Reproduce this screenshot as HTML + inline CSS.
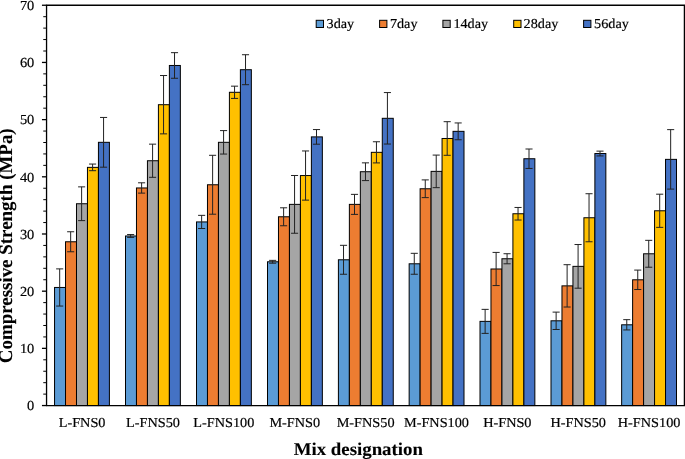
<!DOCTYPE html>
<html><head><meta charset="utf-8"><title>Compressive Strength chart</title>
<style>
html,body{margin:0;padding:0;background:#fff;}
body{width:685px;height:459px;overflow:hidden;}
svg{display:block;}
text{text-rendering:geometricPrecision;stroke:#000;stroke-width:0.18px;font-family:"Liberation Serif","Times New Roman",serif;fill:#000;}
.tk{font-size:13.8px;}
.ct{font-size:13.65px;}
.lg{font-size:13.6px;}
.yt{font-size:18.95px !important;}
.ti{font-size:18.05px;font-weight:bold;stroke-width:0.1px;}
</style></head><body>
<svg width="685" height="459" viewBox="0 0 685 459">
<rect x="0" y="0" width="685" height="459" fill="#fff"/>
<g stroke="#000" stroke-width="1">
<rect x="54.55" y="287.46" width="10.97" height="118.09" fill="#5B9BD5"/>
<rect x="65.52" y="241.77" width="10.97" height="163.78" fill="#ED7D31"/>
<rect x="76.49" y="203.74" width="10.97" height="201.81" fill="#A5A5A5"/>
<rect x="87.46" y="167.37" width="10.97" height="238.18" fill="#FFC000"/>
<rect x="98.43" y="142.32" width="10.97" height="263.23" fill="#4472C4"/>
<rect x="125.50" y="235.99" width="10.97" height="169.56" fill="#5B9BD5"/>
<rect x="136.47" y="187.96" width="10.97" height="217.59" fill="#ED7D31"/>
<rect x="147.44" y="160.74" width="10.97" height="244.81" fill="#A5A5A5"/>
<rect x="158.41" y="104.70" width="10.97" height="300.85" fill="#FFC000"/>
<rect x="169.38" y="65.47" width="10.97" height="340.08" fill="#4472C4"/>
<rect x="196.50" y="221.93" width="10.97" height="183.62" fill="#5B9BD5"/>
<rect x="207.47" y="184.76" width="10.97" height="220.79" fill="#ED7D31"/>
<rect x="218.44" y="142.32" width="10.97" height="263.23" fill="#A5A5A5"/>
<rect x="229.41" y="92.29" width="10.97" height="313.26" fill="#FFC000"/>
<rect x="240.38" y="69.70" width="10.97" height="335.85" fill="#4472C4"/>
<rect x="267.50" y="261.79" width="10.97" height="143.76" fill="#5B9BD5"/>
<rect x="278.47" y="216.78" width="10.97" height="188.77" fill="#ED7D31"/>
<rect x="289.44" y="204.37" width="10.97" height="201.18" fill="#A5A5A5"/>
<rect x="300.41" y="175.55" width="10.97" height="230.00" fill="#FFC000"/>
<rect x="311.38" y="136.89" width="10.97" height="268.66" fill="#4472C4"/>
<rect x="338.40" y="259.78" width="10.97" height="145.77" fill="#5B9BD5"/>
<rect x="349.37" y="204.37" width="10.97" height="201.18" fill="#ED7D31"/>
<rect x="360.34" y="171.72" width="10.97" height="233.83" fill="#A5A5A5"/>
<rect x="371.31" y="152.33" width="10.97" height="253.22" fill="#FFC000"/>
<rect x="382.28" y="118.31" width="10.97" height="287.24" fill="#4472C4"/>
<rect x="409.15" y="263.79" width="10.97" height="141.76" fill="#5B9BD5"/>
<rect x="420.12" y="188.76" width="10.97" height="216.79" fill="#ED7D31"/>
<rect x="431.09" y="171.37" width="10.97" height="234.18" fill="#A5A5A5"/>
<rect x="442.06" y="138.49" width="10.97" height="267.06" fill="#FFC000"/>
<rect x="453.03" y="131.34" width="10.97" height="274.21" fill="#4472C4"/>
<rect x="480.00" y="321.37" width="10.97" height="84.18" fill="#5B9BD5"/>
<rect x="490.97" y="268.99" width="10.97" height="136.56" fill="#ED7D31"/>
<rect x="501.94" y="258.75" width="10.97" height="146.80" fill="#A5A5A5"/>
<rect x="512.91" y="213.75" width="10.97" height="191.80" fill="#FFC000"/>
<rect x="523.88" y="158.74" width="10.97" height="246.81" fill="#4472C4"/>
<rect x="551.00" y="320.80" width="10.97" height="84.75" fill="#5B9BD5"/>
<rect x="561.97" y="285.86" width="10.97" height="119.69" fill="#ED7D31"/>
<rect x="572.94" y="266.36" width="10.97" height="139.19" fill="#A5A5A5"/>
<rect x="583.91" y="217.75" width="10.97" height="187.80" fill="#FFC000"/>
<rect x="594.88" y="153.53" width="10.97" height="252.02" fill="#4472C4"/>
<rect x="621.65" y="324.80" width="10.97" height="80.75" fill="#5B9BD5"/>
<rect x="632.62" y="279.80" width="10.97" height="125.75" fill="#ED7D31"/>
<rect x="643.59" y="253.78" width="10.97" height="151.77" fill="#A5A5A5"/>
<rect x="654.56" y="210.78" width="10.97" height="194.77" fill="#FFC000"/>
<rect x="665.53" y="159.37" width="10.97" height="246.18" fill="#4472C4"/>
</g>
<g stroke="#222" stroke-width="1" fill="none">
<path d="M59.68 268.88V306.05M56.13 268.88H63.23M56.13 306.05H63.23"/>
<path d="M70.66 231.76V251.78M67.11 231.76H74.20M67.11 251.78H74.20"/>
<path d="M81.62 186.87V220.61M78.08 186.87H85.17M78.08 220.61H85.17"/>
<path d="M92.60 164.05V170.69M89.05 164.05H96.15M89.05 170.69H96.15"/>
<path d="M103.57 117.45V167.20M100.02 117.45H107.12M100.02 167.20H107.12"/>
<path d="M130.64 234.56V237.42M127.09 234.56H134.19M127.09 237.42H134.19"/>
<path d="M141.61 182.81V193.11M138.06 182.81H145.16M138.06 193.11H145.16"/>
<path d="M152.58 144.15V177.32M149.03 144.15H156.13M149.03 177.32H156.13"/>
<path d="M163.55 75.53V133.86M160.00 75.53H167.10M160.00 133.86H167.10"/>
<path d="M174.52 52.66V78.28M170.97 52.66H178.07M170.97 78.28H178.07"/>
<path d="M201.64 215.35V228.50M198.09 215.35H205.19M198.09 228.50H205.19"/>
<path d="M212.61 155.31V214.21M209.06 155.31H216.16M209.06 214.21H216.16"/>
<path d="M223.58 130.60V154.05M220.03 130.60H227.13M220.03 154.05H227.13"/>
<path d="M234.55 86.17V98.41M231.00 86.17H238.10M231.00 98.41H238.10"/>
<path d="M245.52 54.72V84.68M241.97 54.72H249.07M241.97 84.68H249.07"/>
<path d="M272.63 260.36V263.21M269.08 260.36H276.19M269.08 263.21H276.19"/>
<path d="M283.61 207.80V225.76M280.06 207.80H287.16M280.06 225.76H287.16"/>
<path d="M294.57 175.49V233.25M291.02 175.49H298.12M291.02 233.25H298.12"/>
<path d="M305.55 150.96V200.14M302.00 150.96H309.10M302.00 200.14H309.10"/>
<path d="M316.51 129.57V144.21M312.96 129.57H320.06M312.96 144.21H320.06"/>
<path d="M343.53 245.32V274.25M339.98 245.32H347.08M339.98 274.25H347.08"/>
<path d="M354.50 194.36V214.38M350.95 194.36H358.06M350.95 214.38H358.06"/>
<path d="M365.47 162.85V180.58M361.92 162.85H369.02M361.92 180.58H369.02"/>
<path d="M376.44 141.75V162.91M372.89 141.75H380.00M372.89 162.91H380.00"/>
<path d="M387.41 92.57V144.04M383.86 92.57H390.96M383.86 144.04H390.96"/>
<path d="M414.28 253.32V274.25M410.73 253.32H417.83M410.73 274.25H417.83"/>
<path d="M425.25 179.90V197.62M421.70 179.90H428.81M421.70 197.62H428.81"/>
<path d="M436.22 155.08V187.67M432.67 155.08H439.77M432.67 187.67H439.77"/>
<path d="M447.19 121.68V155.31M443.64 121.68H450.75M443.64 155.31H450.75"/>
<path d="M458.16 122.94V139.75M454.61 122.94H461.71M454.61 139.75H461.71"/>
<path d="M485.13 309.36V333.38M481.58 309.36H488.69M481.58 333.38H488.69"/>
<path d="M496.11 252.41V285.57M492.56 252.41H499.66M492.56 285.57H499.66"/>
<path d="M507.07 253.72V263.79M503.52 253.72H510.62M503.52 263.79H510.62"/>
<path d="M518.04 207.46V220.04M514.50 207.46H521.59M514.50 220.04H521.59"/>
<path d="M529.01 149.01V168.46M525.47 149.01H532.56M525.47 168.46H532.56"/>
<path d="M556.13 312.11V329.49M552.59 312.11H559.68M552.59 329.49H559.68"/>
<path d="M567.11 264.70V307.02M563.56 264.70H570.65M563.56 307.02H570.65"/>
<path d="M578.08 244.52V288.20M574.53 244.52H581.62M574.53 288.20H581.62"/>
<path d="M589.04 193.73V241.77M585.50 193.73H592.59M585.50 241.77H592.59"/>
<path d="M600.01 151.13V155.93M596.47 151.13H603.56M596.47 155.93H603.56"/>
<path d="M626.78 319.66V329.95M623.24 319.66H630.33M623.24 329.95H630.33"/>
<path d="M637.75 270.08V289.52M634.21 270.08H641.30M634.21 289.52H641.30"/>
<path d="M648.73 240.34V267.22M645.18 240.34H652.27M645.18 267.22H652.27"/>
<path d="M659.69 194.19V227.36M656.14 194.19H663.24M656.14 227.36H663.24"/>
<path d="M670.66 129.63V189.10M667.12 129.63H674.21M667.12 189.10H674.21"/>
</g>
<g stroke="#000" stroke-width="1.3" fill="none">
<path d="M46.55 5.25H684.4V405.55H46.55Z"/>
<path d="M41.95 405.55H46.55"/>
<path d="M43.25 394.11H46.55" stroke-width="1"/>
<path d="M43.25 382.68H46.55" stroke-width="1"/>
<path d="M43.25 371.24H46.55" stroke-width="1"/>
<path d="M43.25 359.80H46.55" stroke-width="1"/>
<path d="M41.95 348.36H46.55"/>
<path d="M43.25 336.93H46.55" stroke-width="1"/>
<path d="M43.25 325.49H46.55" stroke-width="1"/>
<path d="M43.25 314.05H46.55" stroke-width="1"/>
<path d="M43.25 302.62H46.55" stroke-width="1"/>
<path d="M41.95 291.18H46.55"/>
<path d="M43.25 279.74H46.55" stroke-width="1"/>
<path d="M43.25 268.30H46.55" stroke-width="1"/>
<path d="M43.25 256.87H46.55" stroke-width="1"/>
<path d="M43.25 245.43H46.55" stroke-width="1"/>
<path d="M41.95 233.99H46.55"/>
<path d="M43.25 222.56H46.55" stroke-width="1"/>
<path d="M43.25 211.12H46.55" stroke-width="1"/>
<path d="M43.25 199.68H46.55" stroke-width="1"/>
<path d="M43.25 188.24H46.55" stroke-width="1"/>
<path d="M41.95 176.81H46.55"/>
<path d="M43.25 165.37H46.55" stroke-width="1"/>
<path d="M43.25 153.93H46.55" stroke-width="1"/>
<path d="M43.25 142.50H46.55" stroke-width="1"/>
<path d="M43.25 131.06H46.55" stroke-width="1"/>
<path d="M41.95 119.62H46.55"/>
<path d="M43.25 108.18H46.55" stroke-width="1"/>
<path d="M43.25 96.75H46.55" stroke-width="1"/>
<path d="M43.25 85.31H46.55" stroke-width="1"/>
<path d="M43.25 73.87H46.55" stroke-width="1"/>
<path d="M41.95 62.44H46.55"/>
<path d="M43.25 51.00H46.55" stroke-width="1"/>
<path d="M43.25 39.56H46.55" stroke-width="1"/>
<path d="M43.25 28.12H46.55" stroke-width="1"/>
<path d="M43.25 16.69H46.55" stroke-width="1"/>
<path d="M41.95 5.25H46.55"/>
</g>
<text class="tk" transform="translate(34.3,410.25) scale(1.045,1)" text-anchor="end">0</text>
<text class="tk" transform="translate(34.3,353.06) scale(1.045,1)" text-anchor="end">10</text>
<text class="tk" transform="translate(34.3,295.88) scale(1.045,1)" text-anchor="end">20</text>
<text class="tk" transform="translate(34.3,238.69) scale(1.045,1)" text-anchor="end">30</text>
<text class="tk" transform="translate(34.3,181.51) scale(1.045,1)" text-anchor="end">40</text>
<text class="tk" transform="translate(34.3,124.32) scale(1.045,1)" text-anchor="end">50</text>
<text class="tk" transform="translate(34.3,67.14) scale(1.045,1)" text-anchor="end">60</text>
<text class="tk" transform="translate(34.3,9.95) scale(1.045,1)" text-anchor="end">70</text>
<text class="ct" transform="translate(82.10,426.95) scale(1.045,1)" text-anchor="middle">L-FNS0</text>
<text class="ct" transform="translate(152.98,426.95) scale(1.045,1)" text-anchor="middle">L-FNS50</text>
<text class="ct" transform="translate(223.85,426.95) scale(1.045,1)" text-anchor="middle">L-FNS100</text>
<text class="ct" transform="translate(294.72,426.95) scale(1.045,1)" text-anchor="middle">M-FNS0</text>
<text class="ct" transform="translate(365.60,426.95) scale(1.045,1)" text-anchor="middle">M-FNS50</text>
<text class="ct" transform="translate(436.47,426.95) scale(1.045,1)" text-anchor="middle">M-FNS100</text>
<text class="ct" transform="translate(507.35,426.95) scale(1.045,1)" text-anchor="middle">H-FNS0</text>
<text class="ct" transform="translate(578.22,426.95) scale(1.045,1)" text-anchor="middle">H-FNS50</text>
<text class="ct" transform="translate(649.10,426.95) scale(1.045,1)" text-anchor="middle">H-FNS100</text>
<rect x="316.2" y="20.3" width="7.3" height="7.2" fill="#5B9BD5" stroke="#000" stroke-width="1"/>
<text class="lg" transform="translate(326.6,28.35) scale(1.045,1)">3day</text>
<rect x="379.6" y="20.3" width="7.3" height="7.2" fill="#ED7D31" stroke="#000" stroke-width="1"/>
<text class="lg" transform="translate(389.9,28.35) scale(1.045,1)">7day</text>
<rect x="442.9" y="20.3" width="7.3" height="7.2" fill="#A5A5A5" stroke="#000" stroke-width="1"/>
<text class="lg" transform="translate(453.4,28.35) scale(1.045,1)">14day</text>
<rect x="513.7" y="20.3" width="7.3" height="7.2" fill="#FFC000" stroke="#000" stroke-width="1"/>
<text class="lg" transform="translate(523.6,28.35) scale(1.045,1)">28day</text>
<rect x="583.6" y="20.3" width="7.3" height="7.2" fill="#4472C4" stroke="#000" stroke-width="1"/>
<text class="lg" transform="translate(594.1,28.35) scale(1.045,1)">56day</text>
<text class="ti" transform="translate(358.3,454.6) scale(1.045,1)" text-anchor="middle">Mix designation</text>
<text class="ti yt" transform="translate(12.1,245.8) rotate(-90) scale(1,1.01)" text-anchor="middle">Compressive Strength (MPa)</text>
</svg></body></html>
